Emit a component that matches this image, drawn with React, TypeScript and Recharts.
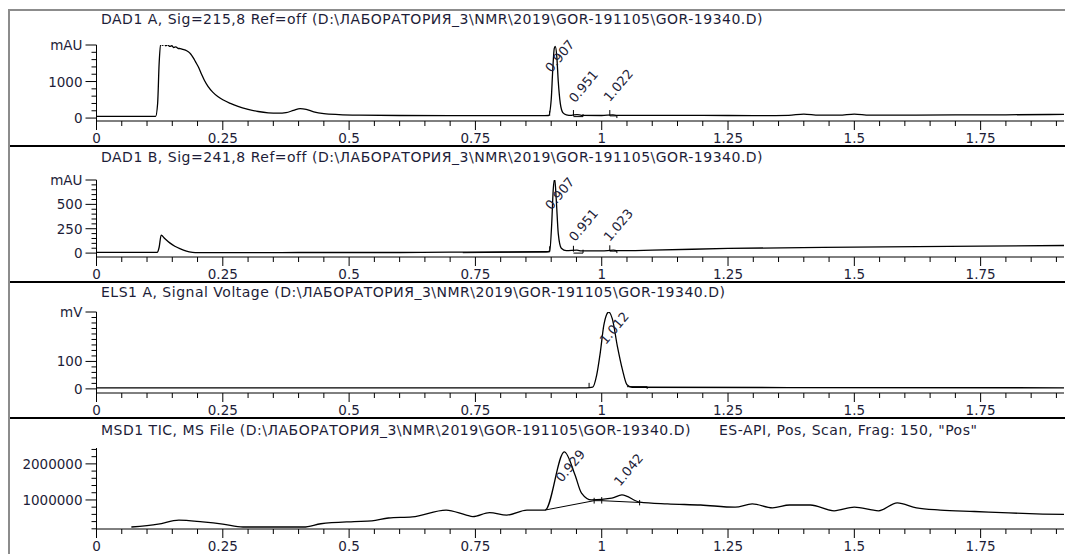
import React from 'react';
import { LineChart, Line, XAxis, YAxis, ReferenceDot, ReferenceLine } from 'recharts';

const FONT = '"DejaVu Sans", Verdana, sans-serif';
const TEXT = '#1d1d38';
const X_MAX = 1.915;

const xTicks = [0, 0.05, 0.1, 0.15, 0.2, 0.25, 0.3, 0.35, 0.4, 0.45, 0.5, 0.55, 0.6, 0.65, 0.7, 0.75, 0.8, 0.85, 0.9, 0.95, 1, 1.05, 1.1, 1.15, 1.2, 1.25, 1.3, 1.35, 1.4, 1.45, 1.5, 1.55, 1.6, 1.65, 1.7, 1.75, 1.8, 1.85, 1.9];
const xMajorTicks = [0, 0.25, 0.5, 0.75, 1, 1.25, 1.5, 1.75];
const xMajorLabels = ['0', '0.25', '0.5', '0.75', '1', '1.25', '1.5', '1.75'];

// Panel 1: DAD1 A
const dadATitle = 'DAD1 A, Sig=215,8 Ref=off (D:\\ЛАБОРАТОРИЯ_3\\NMR\\2019\\GOR-191105\\GOR-19340.D)';
const dadAYTicks = [0, 200, 400, 600, 800, 1000, 1200, 1400, 1600, 1800, 2000];
const dadAYMajor = [0, 1000, 2000];
const dadAYLabels = ['0', '1000', 'mAU'];
const dadA = [
  { t: 0, v: 45 }, { t: 0.05, v: 45 }, { t: 0.1, v: 45 }, { t: 0.117, v: 45 }, { t: 0.121, v: 400 },
  { t: 0.124, v: 1500 }, { t: 0.127, v: 2030 }, { t: 0.131, v: 1990 }, { t: 0.134, v: 2040 }, { t: 0.137, v: 1980 },
  { t: 0.141, v: 2010 }, { t: 0.145, v: 1960 }, { t: 0.149, v: 1980 }, { t: 0.153, v: 1930 }, { t: 0.157, v: 1950 },
  { t: 0.161, v: 1910 }, { t: 0.166, v: 1900 }, { t: 0.171, v: 1880 }, { t: 0.176, v: 1860 }, { t: 0.181, v: 1820 },
  { t: 0.186, v: 1760 }, { t: 0.191, v: 1660 }, { t: 0.196, v: 1540 }, { t: 0.202, v: 1390 }, { t: 0.208, v: 1200 },
  { t: 0.214, v: 1020 }, { t: 0.221, v: 860 }, { t: 0.23, v: 710 }, { t: 0.24, v: 590 }, { t: 0.25, v: 500 },
  { t: 0.265, v: 400 }, { t: 0.28, v: 320 }, { t: 0.3, v: 240 }, { t: 0.32, v: 180 }, { t: 0.34, v: 145 },
  { t: 0.36, v: 135 }, { t: 0.375, v: 150 }, { t: 0.39, v: 210 }, { t: 0.403, v: 260 }, { t: 0.415, v: 240 },
  { t: 0.43, v: 170 }, { t: 0.45, v: 120 }, { t: 0.48, v: 95 }, { t: 0.52, v: 80 }, { t: 0.6, v: 70 },
  { t: 0.7, v: 65 }, { t: 0.8, v: 65 }, { t: 0.88, v: 65 }, { t: 0.895, v: 70 }, { t: 0.9, v: 500 },
  { t: 0.903, v: 1300 }, { t: 0.906, v: 1900 }, { t: 0.908, v: 1960 }, { t: 0.911, v: 1700 }, { t: 0.914, v: 1000 },
  { t: 0.918, v: 400 }, { t: 0.923, v: 150 }, { t: 0.93, v: 90 }, { t: 0.94, v: 75 }, { t: 0.951, v: 95 },
  { t: 0.96, v: 75 }, { t: 1.0, v: 70 }, { t: 1.022, v: 90 }, { t: 1.03, v: 75 }, { t: 1.1, v: 75 },
  { t: 1.2, v: 75 }, { t: 1.3, v: 65 }, { t: 1.37, v: 75 }, { t: 1.4, v: 110 }, { t: 1.43, v: 80 },
  { t: 1.47, v: 80 }, { t: 1.5, v: 110 }, { t: 1.53, v: 80 }, { t: 1.6, v: 80 }, { t: 1.7, v: 85 },
  { t: 1.8, v: 90 }, { t: 1.915, v: 100 },
];
const dadAPeaks = [
  { t: 0.9, v: 1230, label: '0.907' },
  { t: 0.947, v: 400, label: '0.951' },
  { t: 1.016, v: 427, label: '1.022' },
];
const dadAMarks = [
  [0.897, 60, 0.897, 200],
  [0.944, 60, 0.944, 220],
  [0.944, 40, 0.963, 40],
  [0.963, 40, 0.963, 110],
  [1.016, 60, 1.016, 220],
  [1.016, 60, 1.03, 60],
  [1.03, 0, 1.03, 60],
];

// Panel 2: DAD1 B
const dadBTitle = 'DAD1 B, Sig=241,8 Ref=off (D:\\ЛАБОРАТОРИЯ_3\\NMR\\2019\\GOR-191105\\GOR-19340.D)';
const dadBYTicks = [0, 50, 100, 150, 200, 250, 300, 350, 400, 450, 500, 550, 600, 650, 700, 750];
const dadBYMajor = [0, 250, 500, 750];
const dadBYLabels = ['0', '250', '500', 'mAU'];
const dadB = [
  { t: 0, v: 8 }, { t: 0.12, v: 8 }, { t: 0.124, v: 60 }, { t: 0.128, v: 185 }, { t: 0.135, v: 150 },
  { t: 0.145, v: 105 }, { t: 0.155, v: 70 }, { t: 0.165, v: 45 }, { t: 0.178, v: 20 }, { t: 0.19, v: 8 },
  { t: 0.2, v: 4 }, { t: 0.3, v: 4 }, { t: 0.4, v: 6 }, { t: 0.5, v: 6 }, { t: 0.6, v: 6 },
  { t: 0.7, v: 9 }, { t: 0.8, v: 12 }, { t: 0.89, v: 14 }, { t: 0.897, v: 20 }, { t: 0.901, v: 300 },
  { t: 0.904, v: 650 }, { t: 0.907, v: 760 }, { t: 0.91, v: 550 }, { t: 0.914, v: 200 }, { t: 0.92, v: 50 },
  { t: 0.93, v: 25 }, { t: 0.951, v: 30 }, { t: 0.96, v: 22 }, { t: 1.0, v: 22 }, { t: 1.023, v: 30 },
  { t: 1.03, v: 25 }, { t: 1.1, v: 30 }, { t: 1.25, v: 48 }, { t: 1.5, v: 62 }, { t: 1.75, v: 72 },
  { t: 1.915, v: 78 },
];
const dadBPeaks = [
  { t: 0.9, v: 435, label: '0.907' },
  { t: 0.947, v: 111, label: '0.951' },
  { t: 1.016, v: 111, label: '1.023' },
];
const dadBMarks = [
  [0.725, 4, 0.897, 12],
  [0.897, 12, 0.897, 70],
  [0.944, 15, 0.944, 75],
  [0.944, 0, 0.963, 0],
  [0.963, 0, 0.963, 35],
  [1.016, 20, 1.016, 80],
  [1.016, 20, 1.03, 20],
  [1.03, 0, 1.03, 20],
];

// Panel 3: ELS1 A
const elsTitle = 'ELS1 A, Signal Voltage (D:\\ЛАБОРАТОРИЯ_3\\NMR\\2019\\GOR-191105\\GOR-19340.D)';
const elsYTicks = [0, 20, 40, 60, 80, 100, 120, 140, 160, 180, 200, 220, 240, 260, 280];
const elsYMajor = [0, 100, 280];
const elsYLabels = ['0', '100', 'mV'];
const els = [
  { t: 0, v: 4 }, { t: 0.5, v: 4 }, { t: 0.97, v: 4 }, { t: 0.982, v: 6 }, { t: 0.99, v: 50 },
  { t: 0.997, v: 130 }, { t: 1.004, v: 230 }, { t: 1.01, v: 272 }, { t: 1.014, v: 280 }, { t: 1.021, v: 255 },
  { t: 1.031, v: 155 }, { t: 1.041, v: 70 }, { t: 1.05, v: 15 }, { t: 1.06, v: 6 }, { t: 1.915, v: 4 },
];
const elsPeaks = [{ t: 1.008, v: 159, label: '1.012' }];
const elsMarks = [
  [0.975, 4, 0.975, 22],
  [1.05, 8, 1.09, 8],
  [1.09, 0, 1.09, 8],
];

// Panel 4: MSD1 TIC
const ticTitle = 'MSD1 TIC, MS File (D:\\ЛАБОРАТОРИЯ_3\\NMR\\2019\\GOR-191105\\GOR-19340.D)';
const ticSubtitle = 'ES-API, Pos, Scan, Frag: 150, "Pos"';
const ticYTicks = [200000, 400000, 600000, 800000, 1000000, 1200000, 1400000, 1600000, 1800000, 2000000, 2200000, 2400000];
const ticYMajor = [1000000, 2000000];
const ticYLabels = ['1000000', '2000000'];
const tic = [
  { t: 0.069, v: 250000 }, { t: 0.122, v: 330000 }, { t: 0.163, v: 440000 }, { t: 0.21, v: 390000 },
  { t: 0.25, v: 330000 }, { t: 0.29, v: 250000 }, { t: 0.344, v: 250000 }, { t: 0.41, v: 250000 },
  { t: 0.444, v: 340000 }, { t: 0.51, v: 400000 }, { t: 0.545, v: 420000 }, { t: 0.578, v: 500000 },
  { t: 0.625, v: 530000 }, { t: 0.692, v: 720000 }, { t: 0.732, v: 580000 }, { t: 0.745, v: 540000 },
  { t: 0.778, v: 650000 }, { t: 0.812, v: 580000 }, { t: 0.852, v: 720000 }, { t: 0.888, v: 720000 },
  { t: 0.926, v: 2330000 }, { t: 0.947, v: 1700000 }, { t: 0.96, v: 1190000 }, { t: 0.98, v: 1000000 },
  { t: 1.02, v: 1050000 }, { t: 1.04, v: 1140000 }, { t: 1.075, v: 940000 }, { t: 1.13, v: 890000 },
  { t: 1.196, v: 860000 }, { t: 1.264, v: 800000 }, { t: 1.298, v: 890000 }, { t: 1.338, v: 780000 },
  { t: 1.372, v: 860000 }, { t: 1.413, v: 860000 }, { t: 1.46, v: 700000 }, { t: 1.5, v: 800000 },
  { t: 1.548, v: 700000 }, { t: 1.585, v: 920000 }, { t: 1.623, v: 780000 }, { t: 1.67, v: 720000 },
  { t: 1.738, v: 680000 }, { t: 1.806, v: 640000 }, { t: 1.873, v: 610000 }, { t: 1.915, v: 600000 },
];
const ticPeaks = [
  { t: 0.921, v: 1470000, label: '0.929' },
  { t: 1.036, v: 1360000, label: '1.042' },
];
const ticMarks = [
  [0.888, 720000, 0.985, 980000],
  [0.985, 980000, 1.0, 980000],
  [1.0, 980000, 1.075, 930000],
  [0.985, 1060000, 0.985, 900000],
  [1.0, 1080000, 1.0, 900000],
  [1.075, 1000000, 1.075, 850000],
];

const XTick = (props: any) => {
  const { x, y, payload } = props;
  const idx = xMajorTicks.indexOf(payload.value);
  if (idx < 0) return <line x1={x} x2={x} y1={y} y2={y + 5} stroke="#000" strokeWidth={1} />;
  return (
    <g>
      <line x1={x} x2={x} y1={y} y2={y + 9} stroke="#000" strokeWidth={1} />
      <text x={x} y={y + 17} textAnchor="middle" dominantBaseline="central" fontFamily={FONT} fontSize={13.5} fill={TEXT}>
        {xMajorLabels[idx]}
      </text>
    </g>
  );
};

const makeYTick = (majors: number[], labels: string[]) => (props: any) => {
  const { x, y, payload } = props;
  const idx = majors.indexOf(payload.value);
  if (idx < 0) return <line x1={x - 5} x2={x} y1={y} y2={y} stroke="#000" strokeWidth={1} />;
  return (
    <g>
      <line x1={x - 11} x2={x} y1={y} y2={y} stroke="#000" strokeWidth={1} />
      <text x={x - 14} y={y} textAnchor="end" dominantBaseline="central" fontFamily={FONT} fontSize={13.5} fill={TEXT}>
        {labels[idx]}
      </text>
    </g>
  );
};

const peakLabel = (label: string) => (sp: any) => (
  <text
    x={sp.cx}
    y={sp.cy}
    transform={`rotate(-50 ${sp.cx} ${sp.cy})`}
    fontFamily={FONT}
    fontSize={13}
    fill={TEXT}
  >
    {label}
  </text>
);

type PanelCfg = {
  title: string;
  subtitle?: string;
  titleTop: number;
  plotTop: number;
  domain: [number, number];
  yTicks: number[];
  yMajor: number[];
  yLabels: string[];
  data: { t: number; v: number }[];
  peaks: { t: number; v: number; label: string }[];
  marks?: number[][];
  last?: boolean;
};

const panels: PanelCfg[] = [
  { title: dadATitle, titleTop: 0, plotTop: 34, domain: [-80, 2000], yTicks: dadAYTicks, yMajor: dadAYMajor, yLabels: dadAYLabels, data: dadA, peaks: dadAPeaks, marks: dadAMarks },
  { title: dadBTitle, titleTop: 2, plotTop: 33, domain: [-40, 750], yTicks: dadBYTicks, yMajor: dadBYMajor, yLabels: dadBYLabels, data: dadB, peaks: dadBPeaks, marks: dadBMarks },
  { title: elsTitle, titleTop: 1, plotTop: 29, domain: [-15, 280], yTicks: elsYTicks, yMajor: elsYMajor, yLabels: elsYLabels, data: els, peaks: elsPeaks, marks: elsMarks },
  { title: ticTitle, subtitle: ticSubtitle, titleTop: 3, plotTop: 29, domain: [195000, 2440000], yTicks: ticYTicks, yMajor: ticYMajor, yLabels: ticYLabels, data: tic, peaks: ticPeaks, marks: ticMarks, last: true },
];

const titleStyle = {
  position: 'absolute' as const,
  fontFamily: FONT,
  fontSize: 14,
  letterSpacing: '0.5px',
  lineHeight: '16px',
  color: TEXT,
  whiteSpace: 'pre' as const,
};

const Panel = ({ cfg }: { cfg: PanelCfg }) => (
  <div
    style={{
      position: 'relative',
      height: 136,
      boxSizing: 'border-box',
      borderBottom: cfg.last ? 'none' : '2px solid #000',
    }}
  >
    <div style={{ ...titleStyle, left: 91, top: cfg.titleTop }}>{cfg.title}</div>
    {cfg.subtitle && <div style={{ ...titleStyle, left: 709, top: cfg.titleTop }}>{cfg.subtitle}</div>}
    <LineChart width={1055} height={134} data={cfg.data} margin={{ top: cfg.plotTop, right: 1, bottom: 0, left: 0 }}>
      <XAxis
        dataKey="t"
        type="number"
        domain={[0, X_MAX]}
        ticks={xTicks}
        interval={0}
        tick={XTick}
        tickLine={false}
        tickSize={0}
        tickMargin={0}
        height={24}
        axisLine={{ stroke: '#000', strokeWidth: 1 }}
        allowDataOverflow
      />
      <YAxis
        type="number"
        domain={cfg.domain}
        ticks={cfg.yTicks}
        interval={0}
        tick={makeYTick(cfg.yMajor, cfg.yLabels)}
        tickLine={false}
        tickSize={0}
        tickMargin={0}
        width={86.5}
        axisLine={{ stroke: '#000', strokeWidth: 1 }}
        allowDataOverflow
      />
      {(cfg.marks || []).map((b, i) => (
        <ReferenceLine
          key={'b' + i}
          segment={[{ x: b[0], y: b[1] }, { x: b[2], y: b[3] }]}
          stroke="#000"
          strokeWidth={1}
          ifOverflow="visible"
        />
      ))}
      <Line
        dataKey="v"
        type="monotone"
        dot={false}
        stroke="#000"
        strokeWidth={1.3}
        isAnimationActive={false}
      />
      {cfg.peaks.map((p, i) => (
        <ReferenceDot key={'p' + i} x={p.t} y={p.v} r={0} ifOverflow="visible" shape={peakLabel(p.label)} />
      ))}
    </LineChart>
  </div>
);

export default function App() {
  return (
    <div
      style={{
        position: 'absolute',
        left: 8,
        top: 9,
        width: 1057,
        boxSizing: 'border-box',
        borderTop: '2px solid #8c8c8c',
        borderLeft: '2px solid #8c8c8c',
        background: '#fff',
      }}
    >
      {panels.map((cfg, i) => (
        <Panel key={i} cfg={cfg} />
      ))}
    </div>
  );
}
